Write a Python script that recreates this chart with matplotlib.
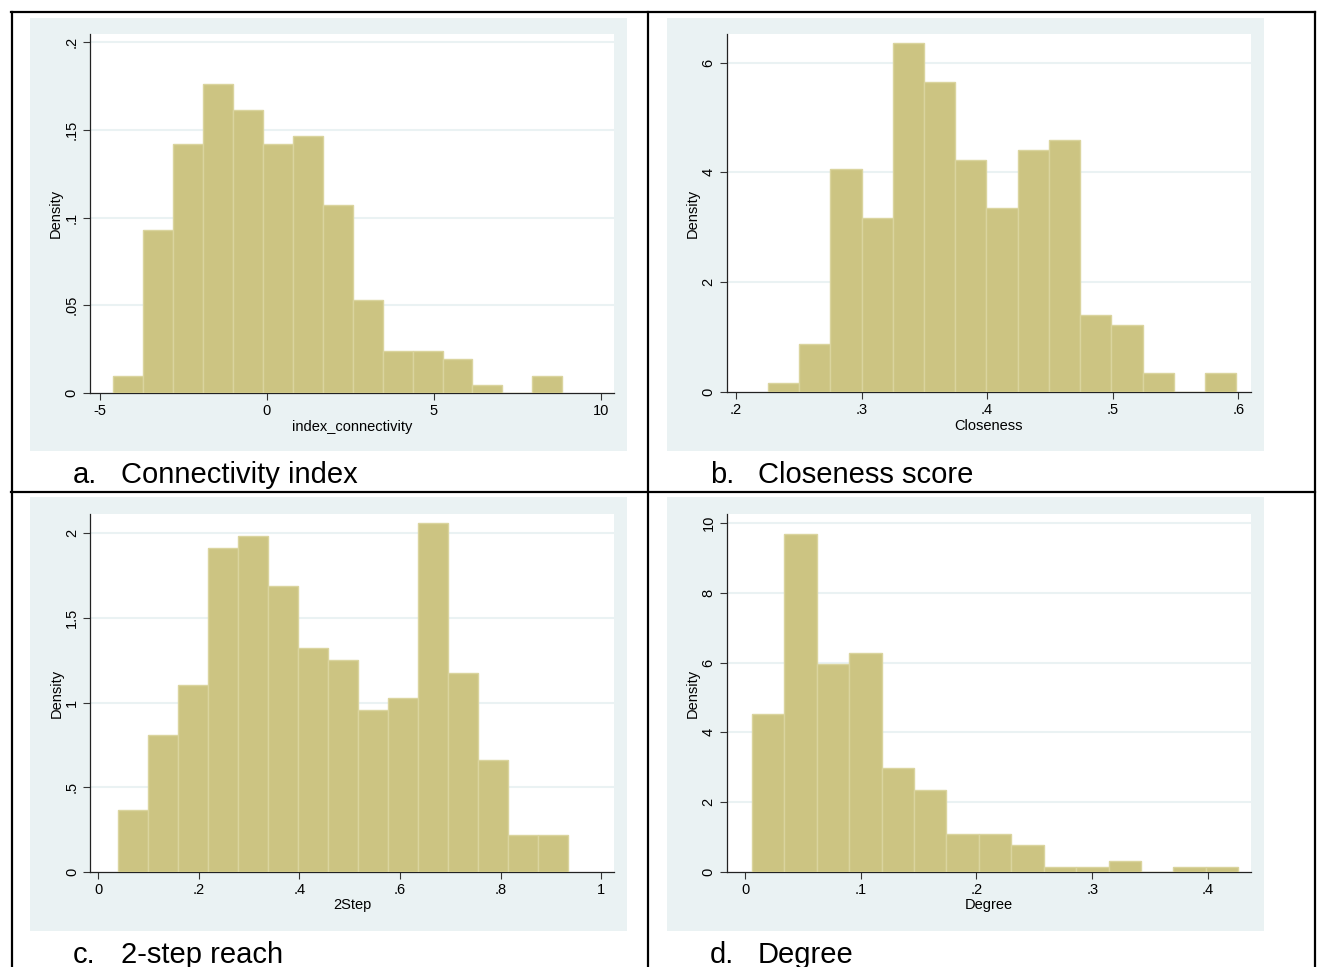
import numpy as np
import matplotlib
matplotlib.use("Agg")
import matplotlib.pyplot as plt
from matplotlib.patches import Rectangle
from matplotlib.lines import Line2D

plt.rcParams.update({
    "font.family": ["Liberation Sans", "DejaVu Sans"],
    "font.size": 10.5,
})

W, H = 1319, 967

# ---- data ----
conn_start, conn_width = -4.60, 0.896
conn_density = [0.0098, 0.0929, 0.1417, 0.1761, 0.1614, 0.1417, 0.1468, 0.1073,
                0.0533, 0.0241, 0.0241, 0.0195, 0.0046, 0.0, 0.0098]
conn_xticks = [-5, 0, 5, 10]
conn_xlabels = ["-5", "0", "5", "10"]
conn_yticks = [0, 0.05, 0.1, 0.15, 0.2]
conn_ylabels = ["0", ".05", ".1", ".15", ".2"]

clos_start, clos_width = 0.2253, 0.02488
clos_density = [0.164, 0.880, 4.053, 3.161, 6.347, 5.643, 4.223, 3.343,
                4.405, 4.587, 1.402, 1.220, 0.346, 0.0, 0.346]
clos_xticks = [0.2, 0.3, 0.4, 0.5, 0.6]
clos_xlabels = [".2", ".3", ".4", ".5", ".6"]
clos_yticks = [0, 2, 4, 6]
clos_ylabels = ["0", "2", "4", "6"]

step_start, step_width = 0.0396, 0.0596
step_density = [0.368, 0.810, 1.103, 1.913, 1.984, 1.691, 1.322, 1.251,
                0.956, 1.029, 2.059, 1.174, 0.661, 0.218, 0.218]
step_xticks = [0, 0.2, 0.4, 0.6, 0.8, 1]
step_xlabels = ["0", ".2", ".4", ".6", ".8", "1"]
step_yticks = [0, 0.5, 1, 1.5, 2]
step_ylabels = ["0", ".5", "1", "1.5", "2"]

deg_start, deg_width = 0.00595, 0.02801
deg_density = [4.53, 9.70, 5.95, 6.27, 2.98, 2.36, 1.09, 1.09,
               0.78, 0.143, 0.143, 0.315, 0.0, 0.143, 0.143]
deg_xticks = [0, 0.1, 0.2, 0.3, 0.4]
deg_xlabels = ["0", ".1", ".2", ".3", ".4"]
deg_yticks = [0, 2, 4, 6, 8, 10]
deg_ylabels = ["0", "2", "4", "6", "8", "10"]

BAR = "#CCC482"
EDGE = "#DAD49E"
BG = "#EAF2F3"


def px_rect(x0, y0, x1, y1):
    return [x0 / W, 1 - y1 / H, (x1 - x0) / W, (y1 - y0) / H]


fig = plt.figure(figsize=(W / 100, H / 100), dpi=100)
fig.patch.set_facecolor("white")

panels = [
    dict(bg=(30, 18, 627, 451), plot=(89.6, 34, 614, 393), xlim=(-5.31, 10.39), ylim=(0, 0.2047),
         start=conn_start, width=conn_width, dens=conn_density,
         xt=conn_xticks, xl=conn_xlabels, yt=conn_yticks, yl=conn_ylabels,
         xlabel="index_connectivity", tag="a.", cap="Connectivity index", cx=73, cy=483),
    dict(bg=(667, 18, 1264, 451), plot=(726.5, 34, 1250.8, 392), xlim=(0.1924, 0.6100), ylim=(0, 6.52),
         start=clos_start, width=clos_width, dens=clos_density,
         xt=clos_xticks, xl=clos_xlabels, yt=clos_yticks, yl=clos_ylabels,
         xlabel="Closeness", tag="b.", cap="Closeness score", cx=710, cy=483),
    dict(bg=(30, 497, 627, 931), plot=(90, 514, 614, 872), xlim=(-0.016, 1.025), ylim=(0, 2.114),
         start=step_start, width=step_width, dens=step_density,
         xt=step_xticks, xl=step_xlabels, yt=step_yticks, yl=step_ylabels,
         xlabel="2Step", tag="c.", cap="2-step reach", cx=73, cy=963),
    dict(bg=(667, 497, 1264, 931), plot=(726.5, 514, 1250.8, 872), xlim=(-0.016, 0.437), ylim=(0, 10.26),
         start=deg_start, width=deg_width, dens=deg_density,
         xt=deg_xticks, xl=deg_xlabels, yt=deg_yticks, yl=deg_ylabels,
         xlabel="Degree", tag="d.", cap="Degree", cx=710, cy=963),
]

for p in panels:
    x0, y0, x1, y1 = p["bg"]
    fig.patches.append(Rectangle((x0 / W, 1 - y1 / H), (x1 - x0) / W, (y1 - y0) / H,
                                 transform=fig.transFigure, facecolor=BG, edgecolor="none", zorder=-5))

    ax = fig.add_axes(px_rect(*p["plot"]))
    ax.set_zorder(3)
    ax.set_facecolor("white")
    dens = np.array(p["dens"])
    lefts = p["start"] + p["width"] * np.arange(len(dens))
    ax.bar(lefts, dens, width=p["width"], align="edge", color=BAR,
           edgecolor=EDGE, linewidth=1.0, zorder=3)
    for t in p["yt"][1:]:
        ax.axhline(t, color=BG, linewidth=1.5, zorder=1)

    ax.set_xlim(*p["xlim"])
    ax.set_ylim(*p["ylim"])
    ax.set_xticks(p["xt"])
    ax.set_xticklabels(p["xl"])
    ax.set_yticks(p["yt"])
    ax.set_yticklabels(p["yl"], rotation=90, va="center")
    ax.tick_params(length=5, width=0.8, color="#333333", labelsize=10.5, pad=3)
    for s in ["top", "right"]:
        ax.spines[s].set_visible(False)
    for s in ["left", "bottom"]:
        ax.spines[s].set_color("#222222")
        ax.spines[s].set_linewidth(0.9)
    ax.set_xlabel(p["xlabel"], fontsize=10.5, labelpad=1)
    ax.set_ylabel("Density", fontsize=10.5, labelpad=1)

    fig.text(p["cx"] / W, 1 - p["cy"] / H, p["tag"], fontsize=21, va="baseline", ha="left")
    fig.text((p["cx"] + 48) / W, 1 - p["cy"] / H, p["cap"], fontsize=21, va="baseline", ha="left")

# table borders
def hline(y, x0, x1):
    fig.add_artist(Line2D([x0 / W, x1 / W], [1 - y / H, 1 - y / H], transform=fig.transFigure,
                          color="black", linewidth=1.6))

def vline(x, y0, y1):
    fig.add_artist(Line2D([x / W, x / W], [1 - y0 / H, 1 - y1 / H], transform=fig.transFigure,
                          color="black", linewidth=1.6))

hline(12, 11, 1315)
hline(491.5, 11, 1315)
vline(11.5, 12, 967)
vline(648, 12, 967)
vline(1314.5, 12, 967)

fig.savefig("out.png", dpi=100)
